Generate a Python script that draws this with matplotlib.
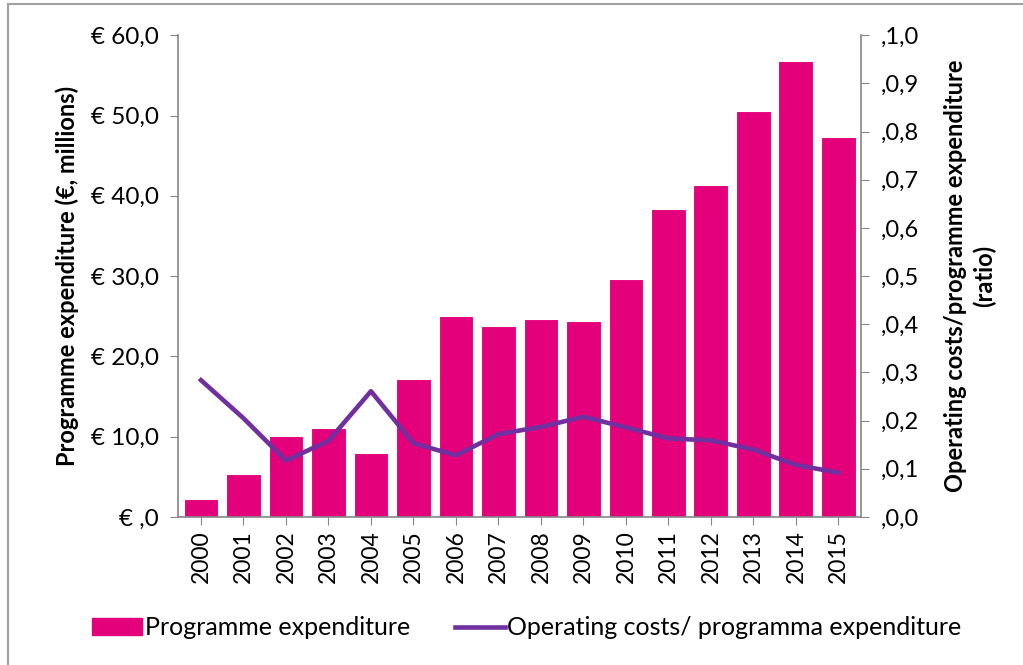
import matplotlib.pyplot as plt
from matplotlib.ticker import FuncFormatter
from matplotlib.patches import Rectangle
from matplotlib.lines import Line2D

plt.rcParams['font.family'] = ['Lato', 'DejaVu Sans']

# data
years = ['2000', '2001', '2002', '2003', '2004', '2005', '2006', '2007',
         '2008', '2009', '2010', '2011', '2012', '2013', '2014', '2015']
expenditure = [2.2, 5.3, 10.1, 11.1, 8.0, 17.2, 25.0, 23.8,
               24.7, 24.4, 29.6, 38.4, 41.3, 50.6, 56.8, 47.3]
ratio = [0.284, 0.205, 0.117, 0.158, 0.261, 0.153, 0.128, 0.172,
         0.187, 0.208, 0.186, 0.163, 0.159, 0.140, 0.108, 0.092]

pink = '#E4007A'
purple = '#7030A0'
grey = '#868686'

fig = plt.figure(figsize=(10.23, 6.65), dpi=100)
ax = fig.add_axes([0.174, 0.2226, 0.668, 0.7244])
x = list(range(len(years)))
ax.bar(x, expenditure, width=0.82, color=pink, edgecolor='white', linewidth=0.8, zorder=2)
ax.set_xlim(-0.54, len(years) - 0.46)
ax.set_ylim(0, 60)
ax.set_yticks(range(0, 61, 10))
ax.yaxis.set_major_formatter(FuncFormatter(
    lambda v, p: '€ ,0' if v == 0 else f'€ {v:.1f}'.replace('.', ',')))
ax.set_xticks(x)
ax.set_xticklabels(years, rotation=90)
ax.tick_params(axis='x', labelsize=16.5, color=grey, length=6)
ax.tick_params(axis='y', labelsize=17.5, color=grey, length=6, pad=8)
for s in ['top', 'right']:
    ax.spines[s].set_visible(False)
for s in ['left', 'bottom']:
    ax.spines[s].set_color(grey)
    ax.spines[s].set_linewidth(1.2)
ax.set_ylabel('Programme expenditure (€, millions)', fontsize=17, fontweight='bold', labelpad=8)

ax2 = ax.twinx()
ax2.plot(x, ratio, color=purple, linewidth=3.3, zorder=3)
ax2.set_ylim(0, 1.0)
ax2.set_yticks([i / 10 for i in range(11)])
ax2.yaxis.set_major_formatter(FuncFormatter(
    lambda v, p: ',1,0' if round(v, 1) == 1.0 else ',' + f'{v:.1f}'.replace('.', ',')))
ax2.tick_params(axis='y', labelsize=17, color=grey, length=6, pad=8)
for s in ['top', 'left', 'bottom']:
    ax2.spines[s].set_visible(False)
ax2.spines['right'].set_color(grey)
ax2.spines['right'].set_linewidth(1.2)
ax2.set_ylabel('Operating costs/programme expenditure\n(ratio)', fontsize=17,
               fontweight='bold', labelpad=18, linespacing=1.3)

handles = [Rectangle((0, 0), 1, 1, color=pink),
           Line2D([0], [0], color=purple, linewidth=3.3)]
fig.legend(handles, ['Programme expenditure', 'Operating costs/ programma expenditure'],
           loc='center', bbox_to_anchor=(0.515, 0.056), ncol=2, frameon=False,
           fontsize=18, handlelength=2.0, handletextpad=0.1, columnspacing=1.8)

# outer frame of the chart area
fig.patches.append(Rectangle((0.008, -0.01), 1.0, 1.004, transform=fig.transFigure,
                             fill=False, edgecolor='#A0A0A0', linewidth=1.5))

fig.savefig('out.png', dpi=100)
